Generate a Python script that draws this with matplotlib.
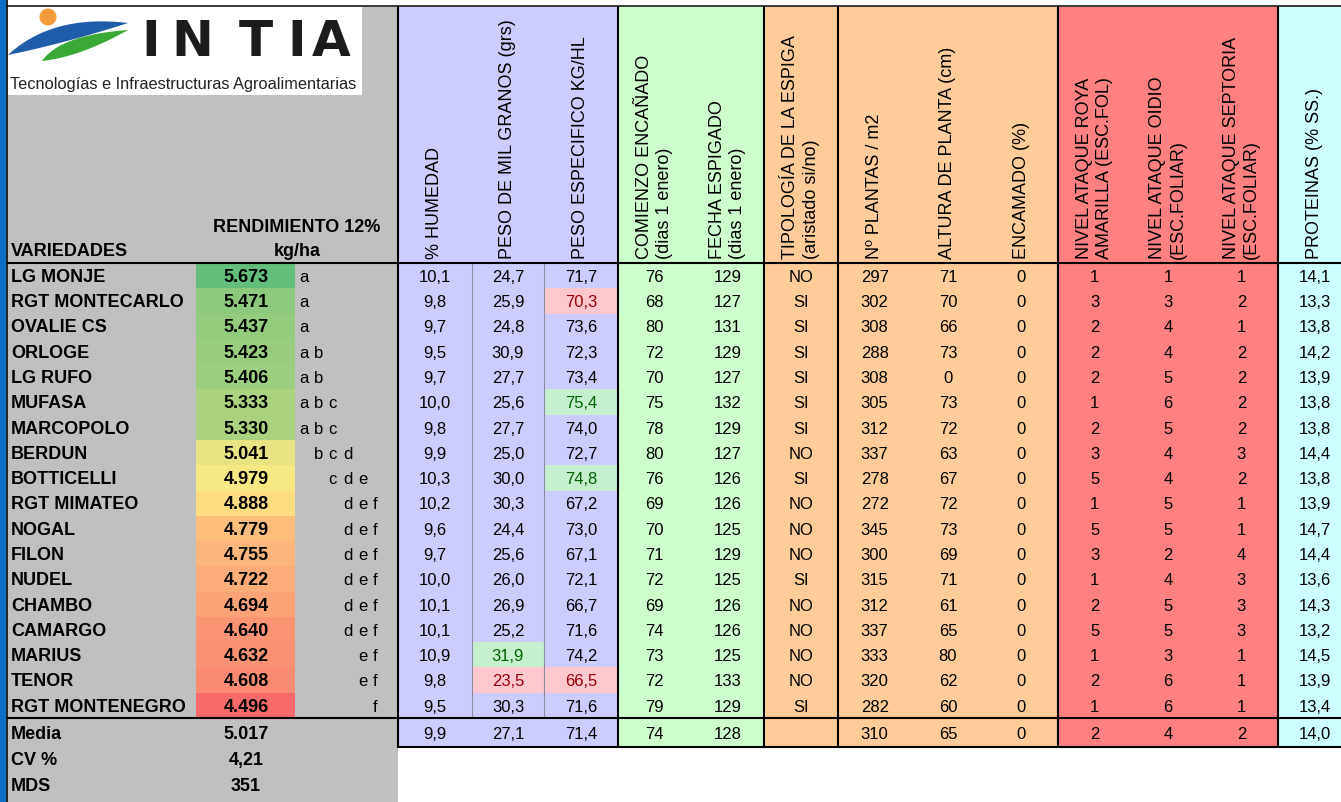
import matplotlib
matplotlib.use("Agg")
import matplotlib.pyplot as plt
from matplotlib.patches import Rectangle, Circle, Polygon
from matplotlib.colors import LinearSegmentedColormap, TwoSlopeNorm
from matplotlib import font_manager
import numpy as np

# ---------------- data ----------------
variedades = ["LG MONJE", "RGT MONTECARLO", "OVALIE CS", "ORLOGE", "LG RUFO", "MUFASA",
              "MARCOPOLO", "BERDUN", "BOTTICELLI", "RGT MIMATEO", "NOGAL", "FILON",
              "NUDEL", "CHAMBO", "CAMARGO", "MARIUS", "TENOR", "RGT MONTENEGRO"]
rendimiento = [5673, 5471, 5437, 5423, 5406, 5333, 5330, 5041, 4979, 4888, 4779, 4755,
               4722, 4694, 4640, 4632, 4608, 4496]
letras = ["a", "a", "a", "ab", "ab", "abc", "abc", "bcd", "cde", "def", "def", "def",
          "def", "def", "def", "ef", "ef", "f"]
humedad = [10.1, 9.8, 9.7, 9.5, 9.7, 10.0, 9.8, 9.9, 10.3, 10.2, 9.6, 9.7, 10.0, 10.1, 10.1, 10.9, 9.8, 9.5]
peso_mil = [24.7, 25.9, 24.8, 30.9, 27.7, 25.6, 27.7, 25.0, 30.0, 30.3, 24.4, 25.6, 26.0, 26.9, 25.2, 31.9, 23.5, 30.3]
peso_esp = [71.7, 70.3, 73.6, 72.3, 73.4, 75.4, 74.0, 72.7, 74.8, 67.2, 73.0, 67.1, 72.1, 66.7, 71.6, 74.2, 66.5, 71.6]
encanado = [76, 68, 80, 72, 70, 75, 78, 80, 76, 69, 70, 71, 72, 69, 74, 73, 72, 79]
espigado = [129, 127, 131, 129, 127, 132, 129, 127, 126, 126, 125, 129, 125, 126, 126, 125, 133, 129]
aristado = ["NO", "SI", "SI", "SI", "SI", "SI", "SI", "NO", "SI", "NO", "NO", "NO", "SI", "NO", "NO", "NO", "NO", "SI"]
plantas = [297, 302, 308, 288, 308, 305, 312, 337, 278, 272, 345, 300, 315, 312, 337, 333, 320, 282]
altura = [71, 70, 66, 73, 0, 73, 72, 63, 67, 72, 73, 69, 71, 61, 65, 80, 62, 60]
encamado = [0, 0, 0, 0, 0, 0, 0, 0, 0, 0, 0, 0, 0, 0, 0, 0, 0, 0]
roya = [1, 3, 2, 2, 2, 1, 2, 3, 5, 1, 5, 3, 1, 2, 5, 1, 2, 1]
oidio = [1, 3, 4, 4, 5, 6, 5, 4, 4, 5, 5, 2, 4, 5, 5, 3, 6, 6]
septoria = [1, 2, 1, 2, 2, 2, 2, 3, 2, 1, 1, 4, 3, 3, 3, 1, 1, 1]
proteinas = [14.1, 13.3, 13.8, 14.2, 13.9, 13.8, 13.8, 14.4, 13.8, 13.9, 14.7, 14.4, 13.6, 14.3, 13.2, 14.5, 13.9, 13.4]

media_vals = [9.9, 27.1, 71.4, 74, 128, None, 310, 65, 0, 2, 4, 2, 14.0]
rend_media = 5017
cv_pct = 4.21
mds = 351

encabezados = ["% HUMEDAD", "PESO DE MIL GRANOS (grs)", "PESO ESPECIFICO KG/HL",
               "COMIENZO ENCAÑADO\n(dias 1 enero)", "FECHA ESPIGADO\n(dias 1 enero)",
               "TIPOLOGÍA DE LA ESPIGA\n(aristado si/no)", "Nº PLANTAS / m2",
               "ALTURA DE PLANTA (cm)", "ENCAMADO (%)", "NIVEL ATAQUE ROYA\nAMARILLA (ESC.FOL)",
               "NIVEL ATAQUE OIDIO\n(ESC.FOLIAR)", "NIVEL ATAQUE SEPTORIA\n(ESC.FOLIAR)",
               "PROTEINAS (% SS.)"]
decimales = [1, 1, 1, 0, 0, None, 0, 0, 0, 0, 0, 0, 1]

# highlighted cells (column index, row index)
resaltado_alto = [(2, 5), (2, 8), (1, 15)]
resaltado_bajo = [(2, 1), (1, 16), (2, 16)]

# ---------------- layout / style ----------------
plt.rcParams["font.family"] = "Liberation Sans"
W, H = 1341, 803
fig = plt.figure(figsize=(W / 100, H / 100), dpi=100)
ax = fig.add_axes([0, 0, 1, 1])
ax.set_xlim(0, W)
ax.set_ylim(H, 0)
ax.axis("off")

TOP = 7
HDR_BOT = 264
DATA_BOT = 719
MEDIA_BOT = 748
n = len(variedades)
rh = (DATA_BOT - HDR_BOT) / n
row_c = [HDR_BOT + (i + 0.5) * rh for i in range(n)]

col_edges = [398, 472, 544, 618, 691, 764, 838, 911.33, 984.67, 1058, 1131.33, 1204.67, 1278, 1352]
col_c = [(col_edges[i] + col_edges[i + 1]) / 2 for i in range(len(col_edges) - 1)]
secciones = [(398, 618, "#CCCCFF"), (618, 764, "#CCFFCC"), (764, 838, "#FFCC99"),
             (838, 1058, "#FFCC99"), (1058, 1278, "#FF8080"), (1278, 1352, "#CCFFFF")]

# background pieces
ax.add_patch(Rectangle((0, 0), W, H, facecolor="white", edgecolor="none", zorder=0))
ax.add_patch(Rectangle((0, 0), 6.5, H, facecolor="#0B6FC4", edgecolor="none", zorder=1))
ax.add_patch(Rectangle((8, TOP), 390, H - TOP, facecolor="#C0C0C0", edgecolor="none", zorder=1))
for x0, x1, c in secciones:
    ax.add_patch(Rectangle((x0, TOP), x1 - x0, MEDIA_BOT - TOP, facecolor=c, edgecolor="none", zorder=1))

# rendimiento colour scale
cmap = LinearSegmentedColormap.from_list("excel3", ["#F8696B", "#FFEB84", "#63BE7B"])
norm = TwoSlopeNorm(vmin=min(rendimiento), vcenter=float(np.percentile(rendimiento, 50)),
                    vmax=max(rendimiento))
for i, v in enumerate(rendimiento):
    ax.add_patch(Rectangle((196, HDR_BOT + i * rh), 99, rh, facecolor=cmap(norm(v)),
                           edgecolor="none", zorder=2))

# highlighted cells
for (c, r) in resaltado_alto:
    ax.add_patch(Rectangle((col_edges[c], HDR_BOT + r * rh), col_edges[c + 1] - col_edges[c], rh,
                           facecolor="#C6EFCE", edgecolor="none", zorder=2))
for (c, r) in resaltado_bajo:
    ax.add_patch(Rectangle((col_edges[c], HDR_BOT + r * rh), col_edges[c + 1] - col_edges[c], rh,
                           facecolor="#FFC7CE", edgecolor="none", zorder=2))

# lines
lw_thick = 1.5
ax.plot([6, W], [TOP - 0.5, TOP - 0.5], color="#3A3A3A", lw=1.4, zorder=5, solid_capstyle="butt")
ax.plot([7.2, 7.2], [0, H], color="#111111", lw=1.3, zorder=5, solid_capstyle="butt")
for x in [398, 618, 764, 838, 1058, 1278]:
    ax.plot([x, x], [TOP, MEDIA_BOT], color="black", lw=lw_thick, zorder=5, solid_capstyle="butt")
for x in [472, 544]:
    ax.plot([x, x], [HDR_BOT, DATA_BOT], color="#8C8CA0", lw=0.8, zorder=4, solid_capstyle="butt")
ax.plot([7, W], [HDR_BOT, HDR_BOT], color="black", lw=lw_thick, zorder=5, solid_capstyle="butt")
ax.plot([7, W], [DATA_BOT, DATA_BOT], color="black", lw=lw_thick, zorder=5, solid_capstyle="butt")
ax.plot([397, W], [MEDIA_BOT, MEDIA_BOT], color="black", lw=lw_thick, zorder=5, solid_capstyle="butt")

# ---------------- logo ----------------
ax.add_patch(Rectangle((8, 8), 354, 88, facecolor="white", edgecolor="none", zorder=3))


def bez(p0, c, p2, k=60):
    t = np.linspace(0, 1, k)[:, None]
    p0, c, p2 = map(np.asarray, (p0, c, p2))
    return (1 - t) ** 2 * p0 + 2 * t * (1 - t) * c + t ** 2 * p2


def crescent(p0, p2, cu, cl, color):
    up = bez(p0, cu, p2)
    lo = bez(p0, cl, p2)[::-1]
    ax.add_patch(Polygon(np.vstack([up, lo]), closed=True, facecolor=color, edgecolor="none", zorder=4))


crescent((8, 56), (128, 24), (52, 15), (66, 44), "#1F5DAA")
crescent((42, 62), (128, 31), (60, 36), (80, 58), "#3AA935")
ax.add_patch(Circle((48, 18), 8.5, facecolor="#F39A3A", edgecolor="none", zorder=4))

for ch, xc in zip("INTIA", [151, 192, 256, 297, 331]):
    ax.text(xc, 42, ch, fontsize=36, family="DejaVu Sans", weight="bold", color="#1C1C1C",
            ha="center", va="center", zorder=6)

names = {f.name for f in font_manager.fontManager.ttflist}
sub_family = "Liberation Sans Narrow" if "Liberation Sans Narrow" in names else "Liberation Sans"
sub = ax.text(10, 84, "Tecnologías e Infraestructuras Agroalimentarias", fontsize=12,
              family=sub_family, color="#222222", ha="left", va="center", zorder=6)
fig.canvas.draw()
bw = sub.get_window_extent().width
sub.set_fontsize(12 * 348 / bw)

# ---------------- header texts ----------------
ax.text(11, 252, "VARIEDADES", fontsize=13, weight="bold", ha="left", va="center", zorder=6)
ax.text(297, 228, "RENDIMIENTO 12%", fontsize=13, weight="bold", ha="center", va="center", zorder=6)
ax.text(297, 252, "kg/ha", fontsize=13, weight="bold", ha="center", va="center", zorder=6)
for xc, lab in zip(col_c, encabezados):
    ax.text(xc, 259, lab, fontsize=13, rotation=90, ha="center", va="bottom",
            multialignment="left", linespacing=1.25, zorder=6)

# ---------------- body ----------------
def fmt(v, d):
    if v is None:
        return ""
    if d is None:
        return str(v)
    if d == 0:
        return f"{v:.0f}"
    return f"{v:.{d}f}".replace(".", ",")


def miles(v):
    return f"{v:,}".replace(",", ".")


columnas = [humedad, peso_mil, peso_esp, encanado, espigado, aristado, plantas, altura,
            encamado, roya, oidio, septoria, proteinas]
alto = set(resaltado_alto)
bajo = set(resaltado_bajo)
for i in range(n):
    y = row_c[i] + 0.8
    ax.text(11, y, variedades[i], fontsize=13, weight="bold", ha="left", va="center", zorder=6)
    ax.text(246, y, miles(rendimiento[i]), fontsize=13, weight="bold", ha="center", va="center", zorder=6)
    for ch in letras[i]:
        k = ord(ch) - ord("a")
        ax.text(299 + k * 14.8, y, ch, fontsize=12, ha="left", va="center", zorder=6)
    for c, vals in enumerate(columnas):
        color = "black"
        if (c, i) in alto:
            color = "#006100"
        elif (c, i) in bajo:
            color = "#9C0006"
        ax.text(col_c[c], y, fmt(vals[i], decimales[c]), fontsize=12, color=color,
                ha="center", va="center", zorder=6)

# media row and statistics
ym = 735
ax.text(11, ym, "Media", fontsize=13, weight="bold", ha="left", va="center", zorder=6)
ax.text(246, ym, miles(rend_media), fontsize=13, weight="bold", ha="center", va="center", zorder=6)
for c, v in enumerate(media_vals):
    ax.text(col_c[c], ym, fmt(v, decimales[c]), fontsize=12, ha="center", va="center", zorder=6)
ax.text(11, 761, "CV %", fontsize=13, weight="bold", ha="left", va="center", zorder=6)
ax.text(246, 761, f"{cv_pct:.2f}".replace(".", ","), fontsize=13, weight="bold",
        ha="center", va="center", zorder=6)
ax.text(11, 787, "MDS", fontsize=13, weight="bold", ha="left", va="center", zorder=6)
ax.text(246, 787, f"{mds}", fontsize=13, weight="bold", ha="center", va="center", zorder=6)

fig.savefig("out.png", dpi=100)
